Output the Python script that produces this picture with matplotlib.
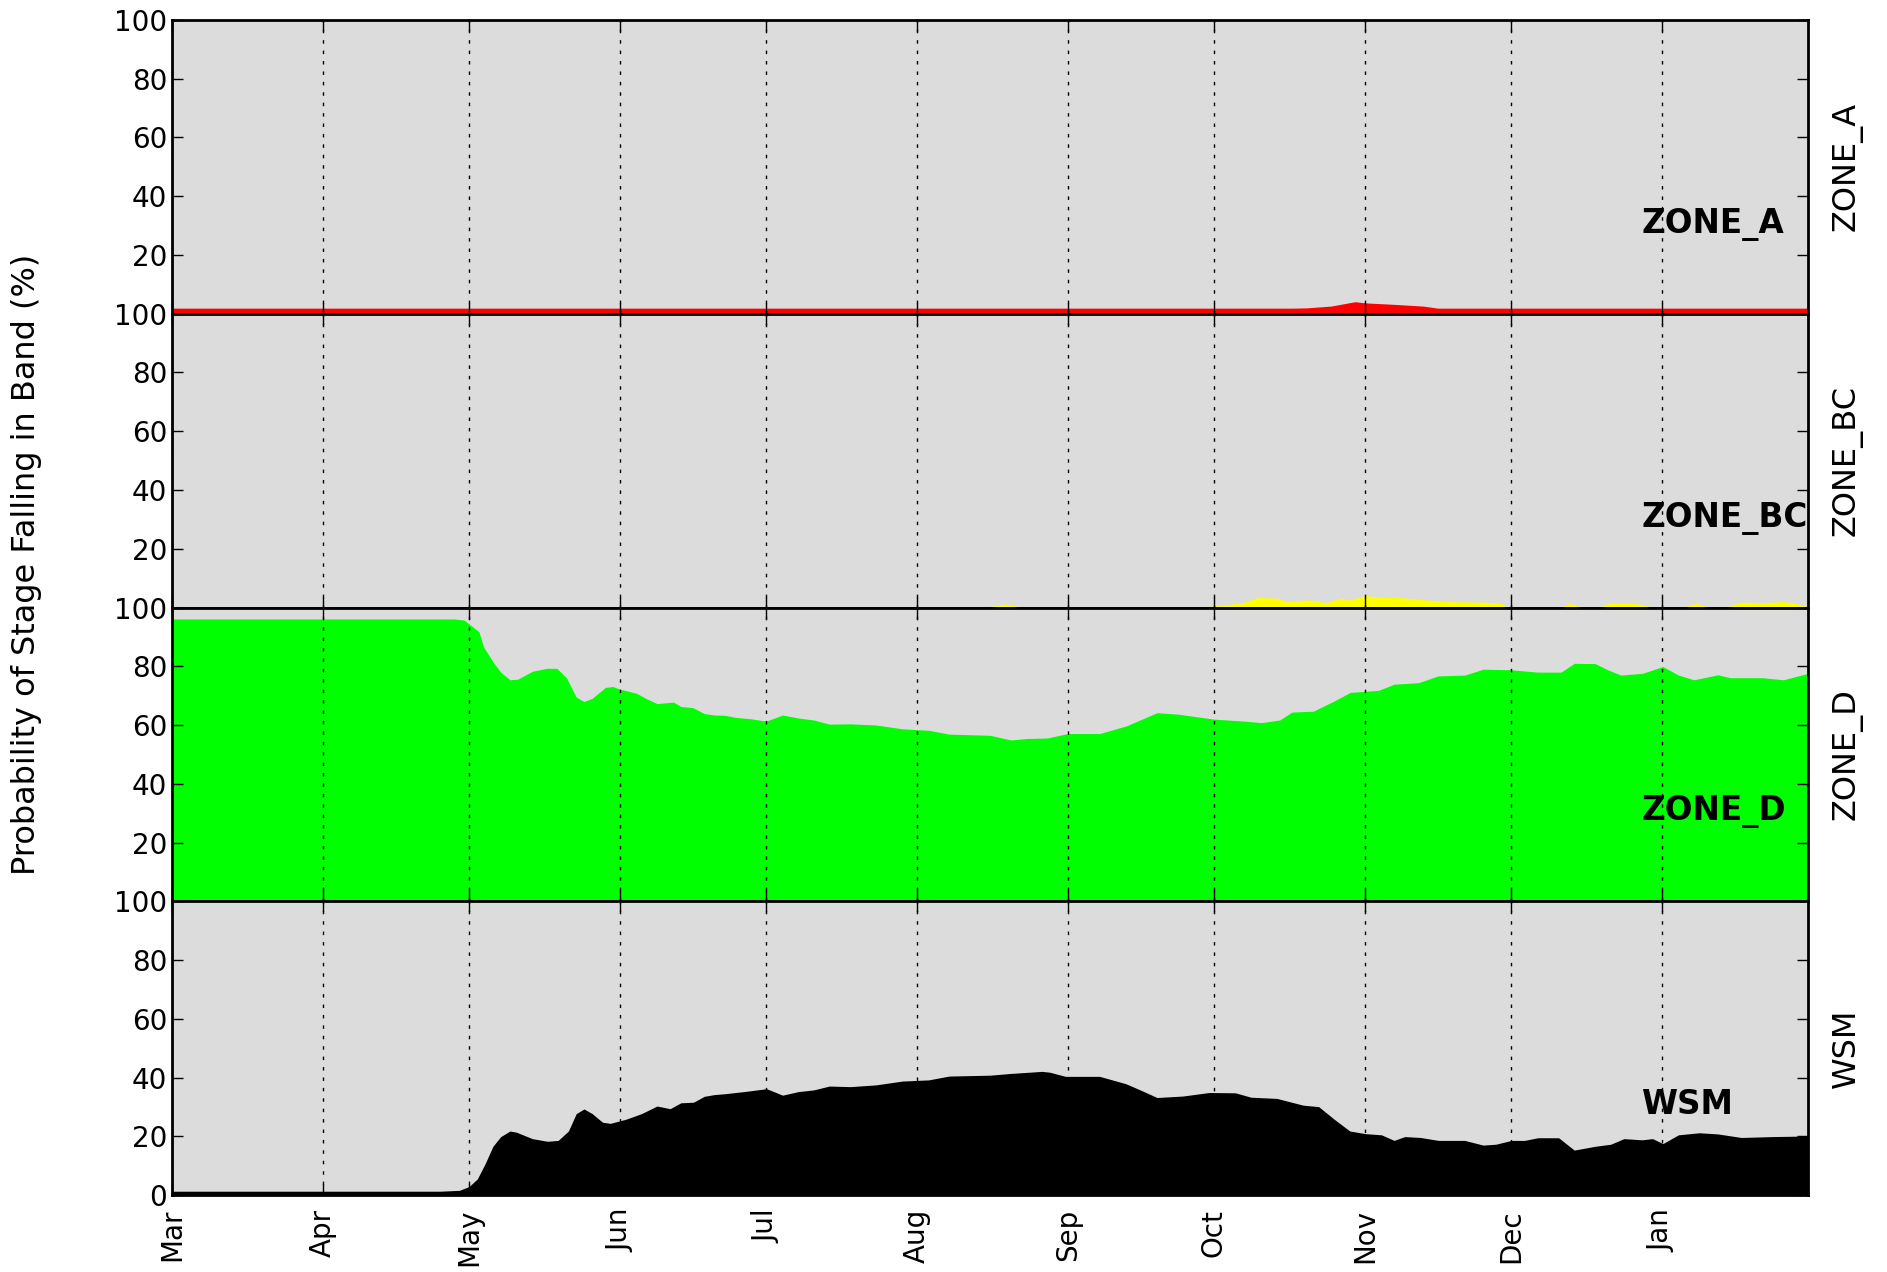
import datetime
import numpy as np
import matplotlib
matplotlib.use("Agg")
import matplotlib.pyplot as plt
import matplotlib.dates as mdates

# days counted from 1 March
start = datetime.datetime(2001, 3, 1)

zones = ["ZONE_A", "ZONE_BC", "ZONE_D", "WSM"]
colors = ["#ff0000", "#ffff00", "#00ff00", "#000000"]
yticks = [0, 20, 40, 60, 80, 100]

a_days = [0, 230, 233, 238, 240, 243, 245, 251, 257, 260, 336]
a_vals = [1.9, 1.9, 2.0, 2.6, 3.2, 4.1, 3.7, 3.2, 2.6, 1.9, 1.9]

bc_days = [0, 167, 171, 175, 210, 216, 220, 223, 227, 229, 231, 233, 235, 237,
           240, 242, 245, 248, 253, 256, 262, 270, 273, 274, 285, 287, 290,
           293, 295, 300, 302, 304, 310, 313, 316, 319, 322, 327, 331, 333, 336]
bc_vals = [0, 0, 1.2, 0, 0, 0.8, 1.7, 3.4, 3.2, 2.0, 2.0, 2.6, 2.3, 1.6,
           3.2, 2.6, 4.0, 3.6, 3.3, 2.8, 2.0, 1.8, 1.4, 0, 0, 1.4, 0,
           0, 1.4, 1.4, 1.0, 0, 0, 1.4, 0, 0, 1.8, 1.7, 2.0, 1.6, 0.2]

d_days = [0, 58, 60, 61, 63, 64, 66, 67.5, 69.4, 71, 74, 77, 79, 81, 83, 84.6,
          86.3, 89, 90.5, 92, 95.4, 97.5, 99.6, 103, 104.5, 107, 109.3, 111.4,
          113.6, 115.7, 119, 122, 125.4, 128.6, 131.8, 135, 139.3, 144.6, 150,
          155.4, 159.6, 168, 172.3, 175.5, 179.8, 184, 190.5, 196, 202.3, 206.6,
          214, 220.5, 223.7, 227.5, 230, 234.4, 238.7, 242, 247.8, 251, 256,
          260, 265.5, 269.3, 275, 280.5, 285.3, 288, 292.3, 295, 297.6, 302,
          306.2, 309.4, 312.6, 317.5, 320, 326.6, 331, 336]
d_vals = [96.1, 96.1, 95.7, 94.4, 91.8, 86.5, 81.3, 78, 75.4, 75.6, 78.3, 79.3,
          79.3, 76.1, 69.5, 68, 69.1, 72.8, 73.1, 72.2, 70.8, 68.9, 67.3, 67.8,
          66.3, 65.9, 63.9, 63.4, 63.3, 62.6, 62.1, 61.3, 63.4, 62.4, 61.7, 60.3,
          60.4, 60, 58.7, 58.2, 56.9, 56.5, 54.9, 55.4, 55.6, 57.1, 57.1, 59.7,
          64.2, 63.7, 62, 61.3, 60.8, 61.7, 64.4, 64.7, 68.2, 71.1, 71.8, 73.9,
          74.4, 76.7, 77, 79, 78.8, 78, 78, 81, 80.9, 78.7, 77, 77.6, 79.9, 77,
          75.4, 77.1, 76.1, 76.1, 75.4, 77.6]

wsm_days = [0, 55, 59, 61, 62.7, 64.3, 65.9, 67.5, 69.4, 70.7, 74, 77.1, 79.3,
            81.4, 83, 84.6, 86.3, 88.4, 90, 93.2, 96.4, 99.6, 102.3, 104.5,
            107.1, 109.3, 111.4, 113.6, 117.9, 122.1, 125.4, 128.6, 131.8, 135,
            139.3, 144.6, 150, 155.4, 159.6, 168, 172.3, 178.7, 180.3, 183.5,
            190.5, 195.9, 199.1, 202.3, 207.6, 213, 218.4, 221.6, 226.9, 232.3,
            235.5, 238.7, 241.9, 245.1, 248.4, 251, 253.2, 256.4, 260.1, 265.5,
            269.3, 271.9, 275.1, 277.8, 280.5, 284.8, 288, 292.3, 295.5, 298.2,
            301.9, 304.1, 306.2, 309.4, 313.7, 317.5, 322.3, 328.7, 336]
wsm_vals = [1.3, 1.3, 1.6, 2.9, 5.5, 10.7, 16.6, 19.9, 21.8, 21.4, 19.2, 18.3,
            18.6, 21.8, 27.7, 29.3, 27.7, 24.8, 24.4, 25.8, 27.7, 30.3, 29.4,
            31.4, 31.6, 33.6, 34.2, 34.5, 35.3, 36.2, 34, 35.2, 35.8, 37.1, 36.9,
            37.5, 38.8, 39.2, 40.5, 40.8, 41.4, 42.1, 41.8, 40.4, 40.4, 37.9,
            35.6, 33.2, 33.7, 34.9, 34.8, 33.3, 32.9, 30.6, 30.1, 25.8, 21.8,
            20.9, 20.5, 18.6, 19.9, 19.6, 18.6, 18.6, 17, 17.3, 18.6, 18.6, 19.5,
            19.5, 15.3, 16.6, 17.3, 19.2, 18.8, 19.2, 17.5, 20.5, 21.2, 20.8,
            19.6, 19.9, 20.1]

all_days = [a_days, bc_days, d_days, wsm_days]
all_vals = [a_vals, bc_vals, d_vals, wsm_vals]
t0 = mdates.date2num(start)

plt.rcParams["font.family"] = "DejaVu Sans"
plt.rcParams["xtick.direction"] = "in"
plt.rcParams["ytick.direction"] = "in"
plt.rcParams["xtick.top"] = True
plt.rcParams["ytick.right"] = True

fig = plt.figure(figsize=(18.87, 12.72), dpi=100)
left, right, top, bottom = 0.0912, 0.9581, 0.9843, 0.0605
h = (top - bottom) / 4

axes = []
for i in range(4):
    y0 = top - (i + 1) * h
    if i == 0:
        ax = fig.add_axes([left, y0, right - left, h])
    else:
        ax = fig.add_axes([left, y0, right - left, h], sharex=axes[0])
    axes.append(ax)

    x = t0 + np.array(all_days[i], dtype=float)
    y = np.array(all_vals[i], dtype=float)
    ax.fill_between(x, 0, y, color=colors[i], linewidth=0)

    ax.set_facecolor("#dcdcdc")
    ax.set_axisbelow(False)
    ax.set_ylim(0, 100)
    ax.set_yticks(yticks)
    # the 0 of upper panels sits under the 100 of the panel below
    if i < 3:
        ax.set_yticklabels([""] + [str(v) for v in yticks[1:]])
    ax.grid(True, axis="x", color="k", linestyle=(0, (2.5, 5)), linewidth=1)
    ax.tick_params(axis="both", length=8, width=1, labelsize=20)
    for s in ax.spines.values():
        s.set_linewidth(2)

    ax.text(0.898, 27.5, zones[i], transform=ax.get_yaxis_transform(),
            fontsize=23.5, fontweight="bold", ha="left", va="baseline")
    ax.text(1.0238, 0.5, zones[i], transform=ax.transAxes, rotation=90,
            fontsize=23, ha="center", va="center")

    if i < 3:
        plt.setp(ax.get_xticklabels(), visible=False)

axes[0].set_xlim(t0, t0 + 336)
axes[3].xaxis.set_major_locator(mdates.MonthLocator())
axes[3].xaxis.set_major_formatter(mdates.DateFormatter("%b"))
plt.setp(axes[3].get_xticklabels(), rotation=90)
axes[3].tick_params(axis="x", pad=10)

fig.text(0.014, 0.556, "Probability of Stage Falling in Band (%)", rotation=90,
         fontsize=23, ha="center", va="center")

fig.savefig("out.png", dpi=100, facecolor="white")
